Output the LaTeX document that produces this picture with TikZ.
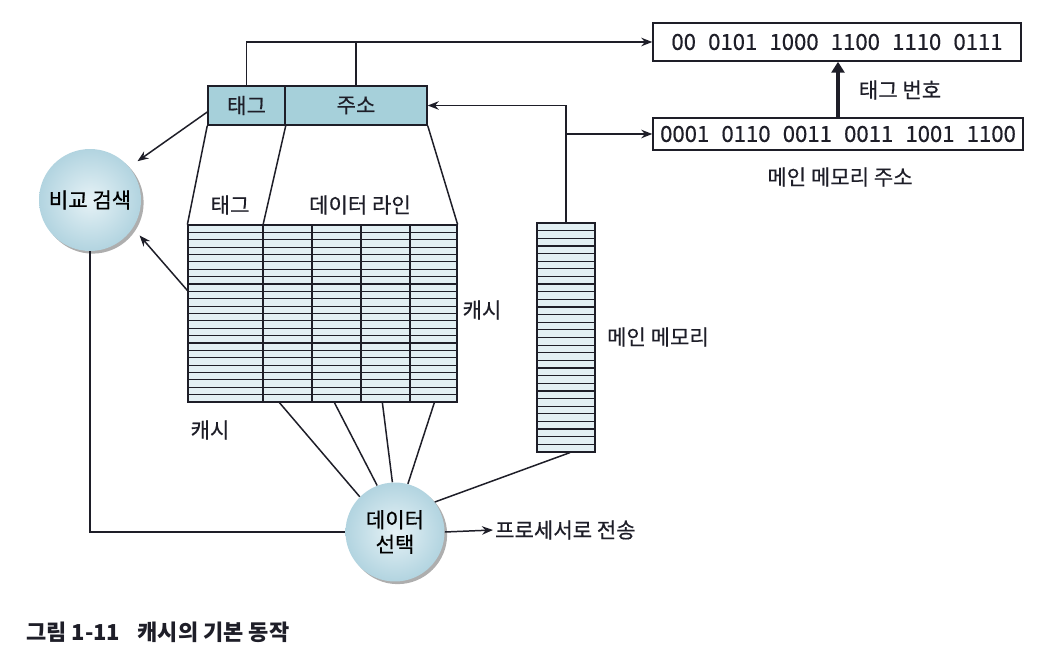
\documentclass[tikz,border=0pt]{standalone}
\usepackage{fontspec}
\setmainfont{Noto Sans CJK KR}
\newfontfamily\labfont{Noto Sans CJK KR}[FakeBold=0.5]
\usepackage{tikz}
\usetikzlibrary{calc,arrows.meta,shadows}
\definecolor{ink}{HTML}{1E1E28}
\definecolor{regfill}{HTML}{A6D0DA}
\definecolor{cellfill}{HTML}{E2EFF3}
\definecolor{ballin}{HTML}{E6F2F6}
\definecolor{ballout}{HTML}{B2D4E0}
\tikzset{
  line/.style={draw=ink, line width=0.85pt},
  arr/.style={line, -{Stealth[length=2.2mm,width=1.7mm]}},
  fatarr/.style={draw=ink, line width=1.8pt, -{Triangle[length=2.2mm,width=2.6mm]}},
  reg/.style={line, fill=regfill, minimum height=0.78cm, inner sep=0pt},
  bitbox/.style={line, fill=white, inner sep=0pt},
  cellline/.style={draw=ink, line width=0.7pt},
  block/.style={cellline, fill=cellfill, inner sep=0pt},
  ball/.style={circle, inner color=ballin, outer color=ballout,
    drop shadow={shadow xshift=1.5pt, shadow yshift=-1.5pt, opacity=0.45, fill=black!70},
    inner sep=0pt, align=center, font=\labfont\fontsize{12}{14}\selectfont},
  lab/.style={text=ink, inner sep=1pt, font=\labfont\fontsize{12}{14}\selectfont},
  bits/.style={text=ink, font=\labfont\fontsize{12.6}{14}\selectfont},
}
\newcommand{\gap}{\hspace{0.55em}}

\begin{document}
\begin{tikzpicture}[x=0.02cm, y=-0.02cm]
  \useasboundingbox[fill=white] (0,0) rectangle (1044,662);

  % address register
  \node[reg, minimum width=1.54cm, lab] (tagf) at (246.5,105.5) {태그};
  \node[reg, minimum width=2.84cm, lab] (addr) at (356,105.5) {주소};

  % bit patterns
  \node[bitbox, minimum width=7.36cm, minimum height=0.76cm, bits] (tnum) at (837,42)
    {00\gap 0101\gap 1000\gap 1100\gap 1110\gap 0111};
  \node[bitbox, minimum width=7.4cm, minimum height=0.64cm, bits] (maddr) at (838,134)
    {0001\gap 0110\gap 0011\gap 0011\gap 1001\gap 1100};
  \node[lab] (tnumlab) at (900,90) {태그 번호};
  \node[lab] (maddrlab) at (840,177) {메인 메모리 주소};
  \draw[fatarr] (maddr.north) -- (maddr.north |- tnum.south);

  % cache
  \node[block, minimum width=5.38cm, minimum height=3.54cm] (cache) at (322.5,313.5) {};
  \foreach \r in {1,...,23}
    \draw[cellline] (188,{225+\r*7.375}) -- (457,{225+\r*7.375});
  \foreach \c in {263,312,361,410}
    \draw[cellline] (\c,225) -- (\c,402);
  \draw[line] (tagf.south west) -- (cache.north west);
  \draw[line] (tagf.south east) -- (263,225);
  \draw[line] (addr.south east) -- (cache.north east);
  \node[lab] (taglab) at (230,205) {태그};
  \node[lab] (linelab) at (360,205) {데이터 라인};
  \node[lab] (cachelab) at (482,310) {캐시};
  \node[lab] (cachelab2) at (210,430) {캐시};

  % main memory
  \node[block, minimum width=1.16cm, minimum height=4.58cm] (mem) at (566,337.5) {};
  \foreach \r in {1,...,29}
    \draw[cellline] (537,{223+\r*7.633}) -- (595,{223+\r*7.633});
  \node[lab, anchor=west] (memlab) at (605,337) {메인 메모리};

  % circles
  \node[ball, minimum size=2.04cm] (cmp) at (90,200) {비교 검색};
  \node[ball, minimum size=1.98cm] (sel) at (395,532) {데이터\\선택};
  \node[lab, anchor=west] (proc) at (493,530) {프로세서로 전송};

  % connections
  \draw[arr] (tagf.north) |- (tnum.west);
  \draw[line] (addr.north) -- (addr.north |- tnum.west);
  \draw[arr] (mem.north) |- (addr.east);
  \draw[arr] (mem.north |- maddr.west) -- (maddr.west);
  \draw[arr, shorten >=0.2cm] ([yshift=-0.13cm]tagf.west) -- (cmp.40);
  \draw[arr, shorten >=0.2cm] ([yshift=0.46cm]cache.west) -- (cmp.-33);
  \draw[line] (cmp.south) |- (sel.west);
  \draw[arr] (sel.east) -- (proc.west);
  \draw[line] ([xshift=1.84cm]cache.south west) -- (sel.135);
  \draw[line] ([xshift=2.94cm]cache.south west) -- (sel.111);
  \draw[line] ([xshift=3.90cm]cache.south west) -- (sel.93);
  \draw[line] ([xshift=4.94cm]cache.south west) -- (sel.75);
  \draw[line] ([xshift=0.08cm]mem.south) -- (sel.37);

  % caption
  \node[anchor=west, text=ink, font=\fontsize{12.5}{14}\selectfont\bfseries] (cap) at (20,632)
    {그림 1-11\hspace{0.8em}캐시의 기본 동작};
\end{tikzpicture}
\end{document}
